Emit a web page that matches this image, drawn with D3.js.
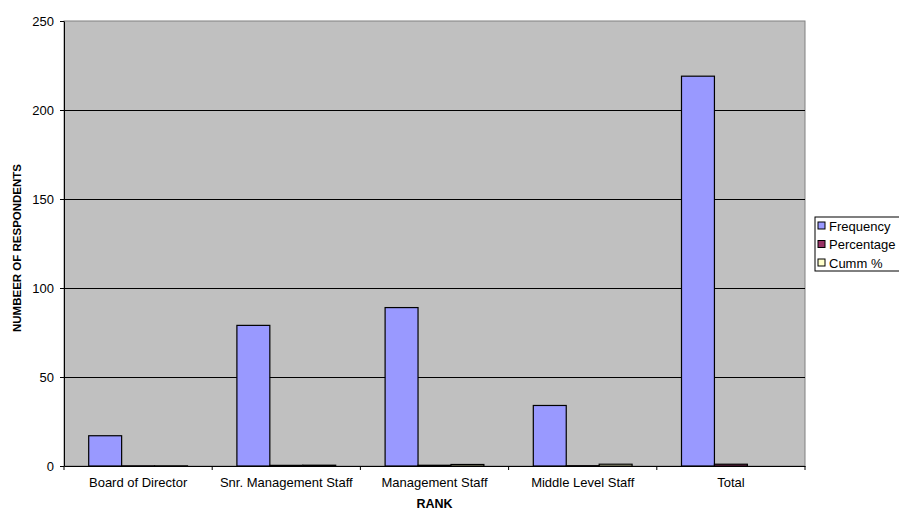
<!DOCTYPE html>
<html>
<head>
<meta charset="utf-8">
<script src="https://cdn.jsdelivr.net/npm/d3@7"></script>
<style>
  html, body { margin: 0; padding: 0; background: #fff; }
  svg { display: block; font-family: Arial, "Liberation Sans", sans-serif; }
</style>
</head>
<body>
<svg id="chart" width="899" height="510"></svg>
<script>
// Respondents by rank
const categories = ["Board of Director", "Snr. Management Staff", "Management Staff", "Middle Level Staff", "Total"];
const frequency  = [17, 79, 89, 34, 219];
const percentage = [0.08, 0.36, 0.41, 0.16, 1.00];
const cummPct    = [0.08, 0.44, 0.85, 1.00, null];
const seriesNames = ["Frequency", "Percentage", "Cumm %"];
const seriesColors = ["#9999FF", "#993366", "#FFFFCC"];
const yTicks = [0, 50, 100, 150, 200, 250];

const seriesValues = [frequency, percentage, cummPct];

const svg = d3.select("#chart");
const plot = { left: 64, right: 805, top: 21, bottom: 466 };

const x0 = d3.scaleBand().domain(categories).range([plot.left, plot.right]).padding(0);
const band = x0.bandwidth();
const barW = band / 4.5;
const x1 = d3.scaleBand().domain(seriesNames).range([barW * 0.75, band - barW * 0.75]).padding(0);
const y = d3.scaleLinear().domain([0, 250]).range([plot.bottom, plot.top]);

// plot area
svg.append("rect")
  .attr("x", plot.left).attr("y", plot.top)
  .attr("width", plot.right - plot.left).attr("height", plot.bottom - plot.top)
  .attr("fill", "#C0C0C0").attr("stroke", "#808080").attr("stroke-width", 1);

// gridlines
svg.append("g").selectAll("line")
  .data(yTicks.filter(t => t > 0 && t < 250))
  .join("line")
  .attr("x1", plot.left).attr("x2", plot.right)
  .attr("y1", d => Math.round(y(d)) + 0.5).attr("y2", d => Math.round(y(d)) + 0.5)
  .attr("stroke", "#000").attr("stroke-width", 1);

// bars
const rows = [];
categories.forEach((c, i) => {
  seriesNames.forEach((s, j) => {
    const v = seriesValues[j][i];
    if (v !== null && v !== undefined) rows.push({ cat: c, series: s, value: v, color: seriesColors[j] });
  });
});

svg.append("g").selectAll("rect")
  .data(rows)
  .join("rect")
  .attr("x", d => x0(d.cat) + x1(d.series))
  .attr("y", d => y(d.value))
  .attr("width", x1.bandwidth())
  .attr("height", d => Math.max(0, y(0) - y(d.value)))
  .attr("fill", d => d.color)
  .attr("stroke", "#000").attr("stroke-width", 1.2);

// y axis
const yAxis = svg.append("g")
  .attr("transform", `translate(${plot.left},0)`)
  .call(d3.axisLeft(y).tickValues(yTicks).tickSize(4).tickPadding(6).tickSizeOuter(0));
yAxis.select(".domain").attr("stroke", "#000");
yAxis.selectAll(".tick line").attr("stroke", "#000");
yAxis.selectAll("text").attr("font-size", 13).attr("fill", "#000")
  .attr("font-family", "Arial, 'Liberation Sans', sans-serif");

// x axis: baseline and category boundary ticks
const xAxis = svg.append("g")
  .attr("transform", `translate(0,${plot.bottom})`)
  .call(d3.axisBottom(x0).tickSize(0).tickPadding(12));
xAxis.select(".domain").attr("stroke", "#000").attr("stroke-width", 1);
xAxis.selectAll("text").attr("font-size", 13).attr("fill", "#000")
  .attr("font-family", "Arial, 'Liberation Sans', sans-serif");
const bounds = categories.map(c => x0(c)).concat([x0.range()[1]]);
svg.append("g").selectAll("line")
  .data(bounds)
  .join("line")
  .attr("x1", d => d).attr("x2", d => d)
  .attr("y1", plot.bottom).attr("y2", plot.bottom + 4)
  .attr("stroke", "#000");

// axis titles
svg.append("text")
  .attr("x", (plot.left + plot.right) / 2).attr("y", 508)
  .attr("text-anchor", "middle").attr("font-size", 12.5).attr("font-weight", "bold")
  .text("RANK");
svg.append("text")
  .attr("transform", "translate(21,248) rotate(-90)")
  .attr("text-anchor", "middle").attr("font-size", 11.5).attr("font-weight", "bold")
  .text("NUMBEER OF RESPONDENTS");

// legend
const legend = svg.append("g").attr("transform", "translate(815,217)");
legend.append("rect")
  .attr("x", 0).attr("y", 0).attr("width", 110).attr("height", 54)
  .attr("fill", "#fff").attr("stroke", "#000");
seriesNames.forEach((s, i) => {
  const g = legend.append("g").attr("transform", `translate(3,${9 + i * 18.5})`);
  g.append("rect").attr("x", 0).attr("y", -4).attr("width", 7).attr("height", 7)
    .attr("fill", seriesColors[i]).attr("stroke", "#000");
  g.append("text").attr("x", 11).attr("y", 0).attr("dy", "0.35em")
    .attr("font-size", 13).text(s);
});
</script>
</body>
</html>
